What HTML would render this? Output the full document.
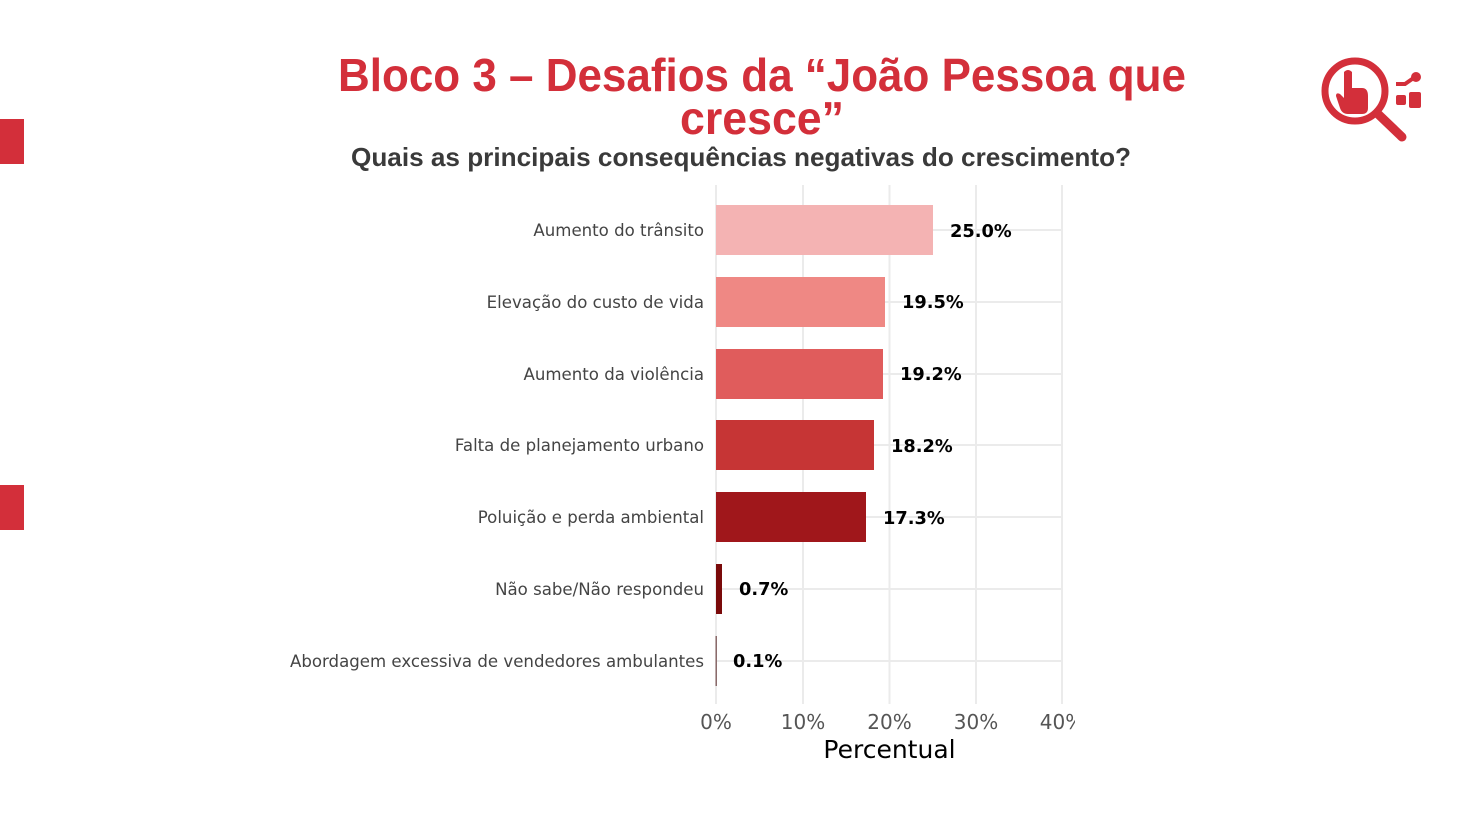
<!DOCTYPE html>
<html><head><meta charset="utf-8"><style>
html,body{margin:0;padding:0;background:#fff;}
svg{display:block}
</style></head><body>
<svg width="1482" height="828" viewBox="0 0 1482 828" xmlns="http://www.w3.org/2000/svg">
<rect x="0" y="119" width="24" height="45" fill="#d32f3a"/>
<rect x="0" y="485" width="24" height="45" fill="#d32f3a"/>
<g font-family="Liberation Sans, sans-serif" font-weight="bold" text-anchor="middle">
<text x="762" y="91" font-size="46" fill="#d32f3a" textLength="848" lengthAdjust="spacingAndGlyphs">Bloco 3 – Desafios da “João Pessoa que</text>
<text x="762" y="134" font-size="46" fill="#d32f3a" textLength="164" lengthAdjust="spacingAndGlyphs">cresce”</text>
<text x="741" y="166" font-size="26" fill="#3a3a3a" textLength="780" lengthAdjust="spacingAndGlyphs">Quais as principais consequências negativas do crescimento?</text>
</g>
<g fill="none" stroke="#d32f3a" stroke-width="7">
<circle cx="1355" cy="91" r="30"/>
<line x1="1378" y1="114" x2="1402" y2="137" stroke-width="9" stroke-linecap="round"/>
<polyline points="1396,84 1405,84 1415,77" stroke-width="4"/>
</g>
<g fill="#d32f3a">
<circle cx="1416" cy="77" r="5"/>
<rect x="1396" y="95" width="10" height="10" rx="2"/>
<rect x="1409" y="92" width="12" height="16" rx="2"/>
<path d="M1344 72 q4 -4 8 0 v16 h10 q6 0 6 8 v12 q0 6 -6 6 h-14 q-6 0 -8 -6 l-4 -12 q0 -4 4 -2 l4 4 z"/>
</g>
<g stroke="#ebebeb" stroke-width="2">
<line x1="716" y1="185" x2="716" y2="704"/>
<line x1="803" y1="185" x2="803" y2="704"/>
<line x1="889.5" y1="185" x2="889.5" y2="704"/>
<line x1="976" y1="185" x2="976" y2="704"/>
<line x1="1062" y1="185" x2="1062" y2="704"/>
<line x1="716" y1="230" x2="1062" y2="230"/>
<line x1="716" y1="302" x2="1062" y2="302"/>
<line x1="716" y1="374" x2="1062" y2="374"/>
<line x1="716" y1="445" x2="1062" y2="445"/>
<line x1="716" y1="517" x2="1062" y2="517"/>
<line x1="716" y1="589" x2="1062" y2="589"/>
<line x1="716" y1="661" x2="1062" y2="661"/>
</g>
<g>
<rect x="716" y="205" width="217" height="50" fill="#f4b3b3"/>
<rect x="716" y="277" width="169" height="50" fill="#ef8884"/>
<rect x="716" y="349" width="167" height="50" fill="#e05c5c"/>
<rect x="716" y="420" width="158" height="50" fill="#c63535"/>
<rect x="716" y="492" width="150" height="50" fill="#a0171b"/>
<rect x="716" y="564" width="6" height="50" fill="#7a0a0a"/>
<rect x="715.5" y="636" width="1.5" height="50" fill="#8b6b6b"/>
</g>
<g font-family="DejaVu Sans, sans-serif" font-size="16.6" fill="#444" text-anchor="end">
<text x="704" y="236">Aumento do trânsito</text>
<text x="704" y="308">Elevação do custo de vida</text>
<text x="704" y="380">Aumento da violência</text>
<text x="704" y="451">Falta de planejamento urbano</text>
<text x="704" y="523">Poluição e perda ambiental</text>
<text x="704" y="595">Não sabe/Não respondeu</text>
<text x="704" y="667">Abordagem excessiva de vendedores ambulantes</text>
</g>
<g font-family="DejaVu Sans, sans-serif" font-size="17.8" font-weight="bold" fill="#000">
<text x="950" y="237">25.0%</text>
<text x="902" y="308">19.5%</text>
<text x="900" y="380">19.2%</text>
<text x="891" y="452">18.2%</text>
<text x="883" y="524">17.3%</text>
<text x="739" y="595">0.7%</text>
<text x="733" y="667">0.1%</text>
</g>
<g font-family="DejaVu Sans, sans-serif" font-size="20" fill="#555" text-anchor="middle">
<text x="716" y="729">0%</text>
<text x="803" y="729">10%</text>
<text x="889.5" y="729">20%</text>
<text x="976" y="729">30%</text>
</g>
<svg x="1030" y="700" width="45" height="40" overflow="hidden">
<text x="32" y="29" font-family="DejaVu Sans, sans-serif" font-size="20" fill="#555" text-anchor="middle">40%</text>
</svg>
<text x="889.5" y="758" font-family="DejaVu Sans, sans-serif" font-size="25" fill="#000" text-anchor="middle">Percentual</text>
</svg>
</body></html>
